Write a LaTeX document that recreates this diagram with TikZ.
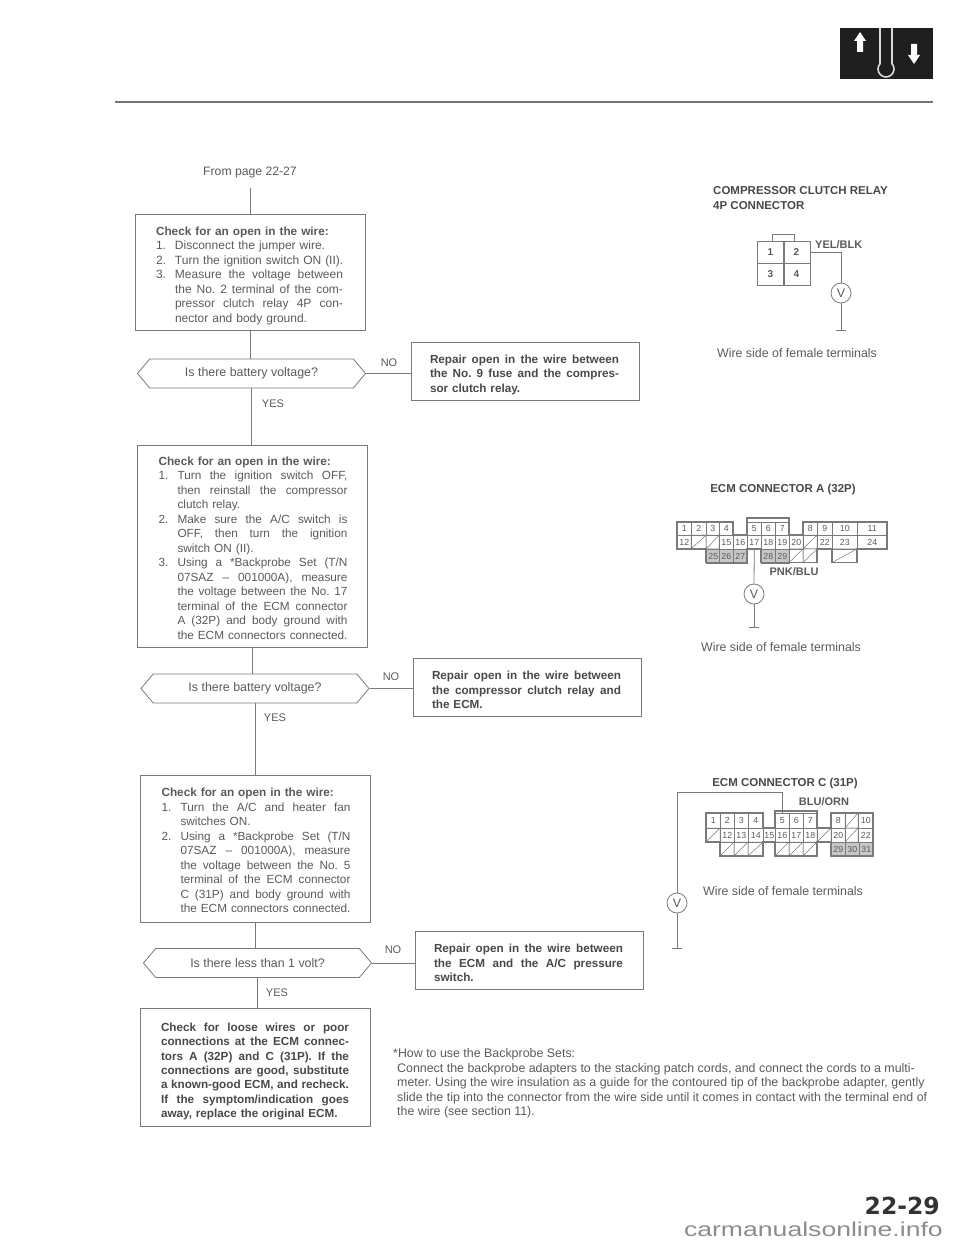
\documentclass[tikz,border=0pt]{standalone}
\usepackage{fontspec}
\setmainfont{Liberation Sans}
\newfontfamily\pagefont{DejaVu Sans}
\usetikzlibrary{shapes.symbols}
\definecolor{ink}{HTML}{5A5A5A}
\definecolor{wire}{HTML}{7A7A7A}
\newcommand{\stp}[1]{\makebox[19pt][l]{#1}}
\newcommand{\ind}{\hspace*{19pt}}
\newcommand{\jl}[2][170pt]{\makebox[#1][s]{\spaceskip=0pt\xspaceskip=0pt #2}}
\frenchspacing
\begin{document}
\begin{tikzpicture}[x=1pt,y=-1pt,color=wire,
	every node/.style={inner sep=0pt,text=ink,font=\fontsize{12.4}{14.5}\selectfont},
	checkbox/.style={draw,line width=1pt,minimum height=#1,align=left,text width=188pt,inner xsep=21pt,font=\fontsize{11.8}{14.5}\selectfont,execute at begin node={\rule{0pt}{13pt}}},
	fixbox/.style={draw,line width=1pt,minimum height=58pt,align=left,text width=190pt,inner xsep=19pt,text=ink!80!black,font=\fontsize{11.7}{14.5}\selectfont\bfseries,execute at begin node={\rule{0pt}{14.5pt}}},
	askbox/.style={draw,line width=.8pt,shape=signal,signal to=west and east,signal pointer angle=100,minimum width=228pt,minimum height=29pt},
	answer/.style={font=\fontsize{11}{12}\selectfont},
	title/.style={text=ink!80!black,font=\fontsize{11.5}{15}\selectfont\bfseries,align=left},
	wirename/.style={font=\fontsize{11}{12}\selectfont\bfseries},
	cell/.style={draw,line width=.5pt,anchor=north west,minimum height=13.7pt,font=\fontsize{8.8}{9}\selectfont},
	meter/.style={draw,circle,line width=.8pt,minimum size=20pt}
	]
	\useasboundingbox (0,0) rectangle (960,1246);

	% page head
	\fill[black!88] (840,28) rectangle (933,79);
	\draw[white!85!black,line width=1.6pt] (886,69) circle[radius=8pt];
	\fill[black!88] (881,50) rectangle (891,64);
	\draw[white!85!black,line width=1.6pt] (880,28) -- (880,64) (892,28) -- (892,64);
	\fill[white] (860,32) -- (866,41) -- (863,41) -- (863,52) -- (857,52) -- (857,41) -- (854,41) -- cycle;
	\fill[white] (914,64) -- (920,55) -- (917,55) -- (917,44) -- (911,44) -- (911,55) -- (908,55) -- cycle;
	\draw[line width=2pt,black!55] (115,102) -- (933,102);

	% left column
	\node[font=\fontsize{12.2}{14.5}\selectfont] (from) at (250,173) {From page 22-27};
	\node[checkbox=115pt,font=\fontsize{12}{14.5}\selectfont,execute at begin node={\rule{0pt}{14.5pt}}] (check1) at (250,272.5) {{\fontsize{11.8}{14.5}\selectfont\bfseries Check for an open in the wire:}\\
		\stp{1.}Disconnect the jumper wire.\\
		\stp{2.}Turn the ignition switch ON (II).\\
		\stp{3.}\jl[168pt]{Measure the voltage between}\\
		\ind\jl[168pt]{the No. 2 terminal of the com-}\\
		\ind\jl[168pt]{pressor clutch relay 4P con-}\\
		\ind nector and body ground.};
	\node[askbox] (ask1) at (251.5,373.5) {Is there battery voltage?};
	\node[answer] (yes1) at (273,404) {YES};
	\node[checkbox=202pt] (check2) at (252.5,546) {{\bfseries Check for an open in the wire:}\\
		\stp{1.}\jl{Turn the ignition switch OFF,}\\
		\ind\jl{then reinstall the compressor}\\
		\ind clutch relay.\\
		\stp{2.}\jl{Make sure the A/C switch is}\\
		\ind\jl{OFF, then turn the ignition}\\
		\ind switch ON (II).\\
		\stp{3.}\jl{Using a *Backprobe Set (T/N}\\
		\ind\jl{07SAZ -- 001000A), measure}\\
		\ind\jl{the voltage between the No. 17}\\
		\ind\jl{terminal of the ECM connector}\\
		\ind\jl{A (32P) and body ground with}\\
		\ind\jl{the ECM connectors connected.}};
	\node[askbox] (ask2) at (255,688.5) {Is there battery voltage?};
	\node[answer] (yes2) at (275,718) {YES};
	\node[checkbox=147pt] (check3) at (255.5,848.5) {{\bfseries Check for an open in the wire:}\\
		\stp{1.}\jl{Turn the A/C and heater fan}\\
		\ind switches ON.\\
		\stp{2.}\jl{Using a *Backprobe Set (T/N}\\
		\ind\jl{07SAZ -- 001000A), measure}\\
		\ind\jl{the voltage between the No. 5}\\
		\ind\jl{terminal of the ECM connector}\\
		\ind\jl{C (31P) and body ground with}\\
		\ind\jl{the ECM connectors connected.}};
	\node[askbox] (ask3) at (257.5,963) {Is there less than 1 volt?};
	\node[answer] (yes3) at (277,993) {YES};
	\node[checkbox=118pt,text=ink!80!black,font=\fontsize{11.7}{14.4}\selectfont\bfseries,execute at begin node={\rule{0pt}{17.5pt}}] (check4) at (255,1067) {\jl[188pt]{Check for loose wires or poor}\\
		\jl[188pt]{connections at the ECM connec-}\\
		\jl[188pt]{tors A (32P) and C (31P). If the}\\
		\jl[188pt]{connections are good, substitute}\\
		\jl[188pt]{a known-good ECM, and recheck.}\\
		\jl[188pt]{If the symptom/indication goes}\\
		away, replace the original ECM.};

	% repair boxes
	\node[fixbox] (fix1) at (525,371.5) {\jl[189pt]{Repair open in the wire between}\\\jl[189pt]{the No. 9 fuse and the compres-}\\sor clutch relay.};
	\node[fixbox] (fix2) at (527,687) {\jl[189pt]{Repair open in the wire between}\\\jl[189pt]{the compressor clutch relay and}\\the ECM.};
	\node[fixbox] (fix3) at (529,960) {\jl[189pt]{Repair open in the wire between}\\\jl[189pt]{the ECM and the A/C pressure}\\switch.};
	\node[answer] (no1) at (389,363) {NO};
	\node[answer] (no2) at (391,677) {NO};
	\node[answer] (no3) at (393,950) {NO};

	\draw[line width=1pt,shorten <=9pt] (from) -- (check1.north);
	\foreach \a/\b in {check1/ask1,check2/ask2,check3/ask3,ask1/check2,ask2/check3,ask3/check4}
		\draw[line width=1pt] (\a.south) -- (\a.south |- \b.north);
	\foreach \a/\b in {ask1/fix1,ask2/fix2,ask3/fix3}
		\draw[line width=.8pt] (\a.east) -- (\a.east -| \b.west);

	% relay connector
	\node[title,anchor=west] (head1) at (713,198.5) {COMPRESSOR CLUTCH RELAY\\4P CONNECTOR};
	\draw[line width=.7pt] (772,241) |- (794,234) -- (794,241);
	\foreach \n/\x/\y in {1/757/241,2/783/241,3/757/263,4/783/263}
		\node[cell,font=\fontsize{10}{10}\selectfont\bfseries,minimum width=26.5pt,minimum height=22pt] (r\n) at (\x,\y) {\n};
	\node[wirename,anchor=west] (col1) at (815,245) {YEL/BLK};
	\node[meter] (v1) at (841,293) {V};
	\coordinate (gnd1) at (841,330);
	\draw[line width=1pt] (r2.east) -| (v1.north);
	\draw[line width=.8pt] (v1) -- (gnd1);
	\draw[line width=.8pt] ([xshift=-5pt]gnd1) -- ([xshift=5pt]gnd1);
	\node (side1) at (797,353) {Wire side of female terminals};

	% ECM connector A
	\node[title] (head2) at (783,489.5) {ECM CONNECTOR A (32P)};
	\foreach \n/\x/\w in {1/677/14,2/691/15,3/706/13,4/719/14,5/747/14,6/761/14,7/775/14,8/803/14,9/817/15,10/832/25,11/857/30}
		\node[cell,minimum width=\w pt] (a\n) at (\x,521.5) {\n};
	\foreach \n/\x/\w in {12/677/14,15/719/14,16/733/14,17/747/14,18/761/14,19/775/14,20/789/14,22/817/15,23/832/25,24/857/30}
		\node[cell,minimum width=\w pt] (a\n) at (\x,535.2) {\n};
	\foreach \n/\x in {25/706,26/719,27/733,28/761,29/775}
		\node[cell,minimum width=14pt,fill=black!22] (a\n) at (\x,548.9) {\n};
	\foreach \x/\y/\w in {691/535.2/15,706/535.2/13,803/535.2/14,789/548.9/14,803/548.9/14,832/548.9/25}
		\draw[line width=.5pt] (\x,\y) rectangle ++(\w,13.7) (\x,\y+13.7) -- ++(\w,-13.7);
	\draw[line width=1.1pt] (677,521.5) -- (733,521.5) -- (733,535) -- (747,535) -- (747,518) -- (789,518) -- (789,535) -- (803,535) -- (803,521.5) -- (887,521.5) -- (887,549) -- (857,549) -- (857,562.6) -- (832,562.6) -- (832,549) -- (817,549) -- (817,562.6) -- (761,562.6) -- (761,549) -- (747,549) -- (747,562.6) -- (706,562.6) -- (706,549) -- (677,549) -- cycle;
	\node[wirename] (col2) at (794,572) {PNK/BLU};
	\node[meter] (v2) at (754,594) {V};
	\coordinate (gnd2) at (754,627);
	\draw[line width=.8pt] (a17.south) -- (v2.north);
	\draw[line width=.8pt] (v2) -- (gnd2);
	\draw[line width=.8pt] ([xshift=-5pt]gnd2) -- ([xshift=5pt]gnd2);
	\node (side2) at (781,647) {Wire side of female terminals};

	% ECM connector C
	\node[title] (head3) at (785,783.5) {ECM CONNECTOR C (31P)};
	\foreach \n/\x/\w in {1/706/14,2/720/14,3/734/14,4/748/15,5/775/14,6/789/14,7/803/14,8/831/14,10/858/15}
		\node[cell,minimum width=\w pt,minimum height=15pt] (c\n) at (\x,813) {\n};
	\foreach \n/\x/\w in {12/720/14,13/734/14,14/748/15,15/763/12,16/775/14,17/789/14,18/803/14,20/831/14,22/858/15}
		\node[cell,minimum width=\w pt,minimum height=14pt] (c\n) at (\x,828) {\n};
	\foreach \n/\x in {29/831,30/845,31/859}
		\node[cell,minimum width=14pt,minimum height=14pt,fill=black!22] (c\n) at (\x,842) {\n};
	\foreach \x/\y/\w/\h in {845/813/13/15,706/828/14/14,817/828/14/14,845/828/13/14,720/842/14/14,734/842/14/14,748/842/15/14,775/842/14/14,789/842/14/14,803/842/14/14}
		\draw[line width=.5pt] (\x,\y) rectangle ++(\w,\h) (\x,\y+\h) -- ++(\w,-\h);
	\draw[line width=1.1pt] (706,813) -- (763,813) -- (763,828) -- (775,828) -- (775,811) -- (817,811) -- (817,828) -- (831,828) -- (831,813) -- (873,813) -- (873,856) -- (831,856) -- (831,842) -- (817,842) -- (817,856) -- (775,856) -- (775,842) -- (763,842) -- (763,856) -- (720,856) -- (720,842) -- (706,842) -- cycle;
	\node[wirename] (col3) at (824,802) {BLU/ORN};
	\node[meter] (v3) at (677,903) {V};
	\coordinate (gnd3) at (677,948);
	\draw[line width=.8pt] (c5.north) -- ++(0,-21) -| (v3.north);
	\draw[line width=.8pt] (v3) -- (gnd3);
	\draw[line width=.8pt] ([xshift=-5pt]gnd3) -- ([xshift=5pt]gnd3);
	\node (side3) at (783,891) {Wire side of female terminals};

	% footnote
	\node[anchor=north west,align=left] (note) at (393,1048.5) {*How to use the Backprobe Sets:\\
		\hspace*{4pt}Connect the backprobe adapters to the stacking patch cords, and connect the cords to a multi-\\
		\hspace*{4pt}meter. Using the wire insulation as a guide for the contoured tip of the backprobe adapter, gently\\
		\hspace*{4pt}slide the tip into the connector from the wire side until it comes in contact with the terminal end of\\
		\hspace*{4pt}the wire (see section 11).};

	% page number
	\node[anchor=east,text=black!80,font=\fontsize{23.5}{24}\selectfont\pagefont\bfseries] (pageno) at (940,1206) {22-29};
	\node[anchor=base east,text=black!45,font=\fontsize{20}{21}\selectfont] (site) at (943,1236) {\scalebox{1.33}[1]{carmanualsonline.info}};
\end{tikzpicture}
\end{document}
